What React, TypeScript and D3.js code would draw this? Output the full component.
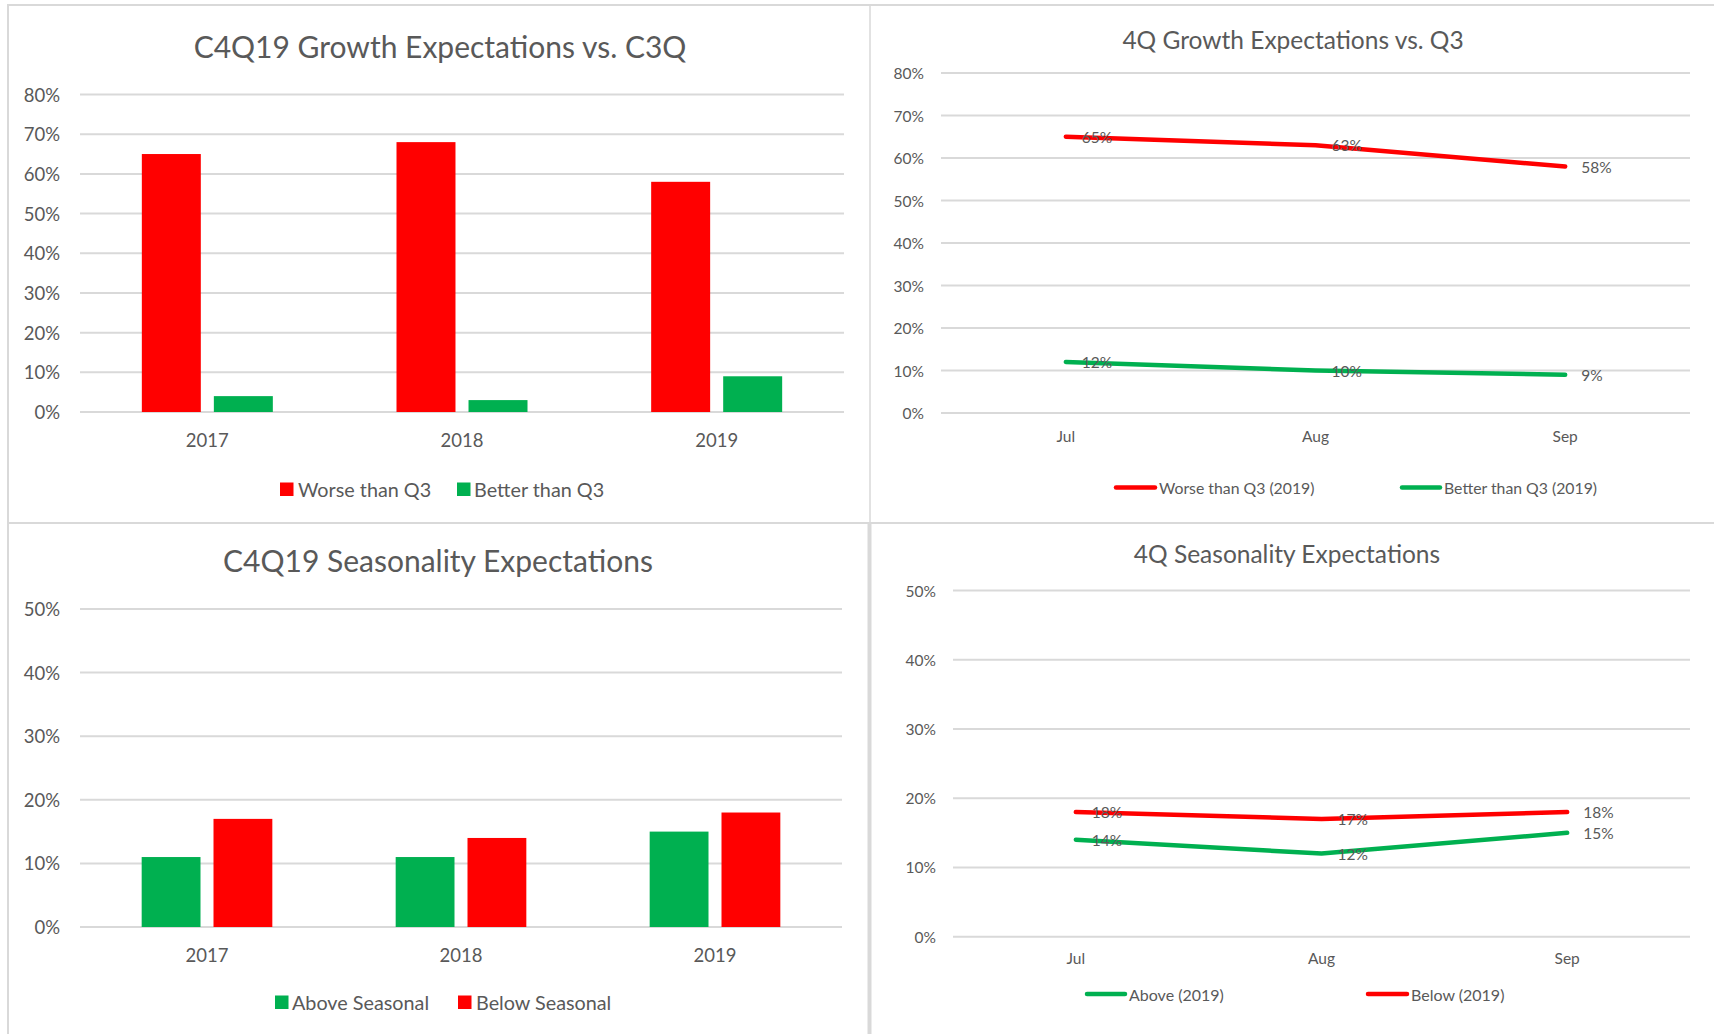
import React from "react";
import * as d3 from "d3";

// --- data ---
const years = ["2017", "2018", "2019"];
const worseThanQ3 = [0.65, 0.68, 0.58];
const betterThanQ3 = [0.04, 0.03, 0.09];
const aboveSeasonal = [0.11, 0.11, 0.15];
const belowSeasonal = [0.17, 0.14, 0.18];

const months = ["Jul", "Aug", "Sep"];
const worse2019 = [0.65, 0.63, 0.58];
const better2019 = [0.12, 0.1, 0.09];
const above2019 = [0.14, 0.12, 0.15];
const below2019 = [0.18, 0.17, 0.18];

const growthTicks = [0, 0.1, 0.2, 0.3, 0.4, 0.5, 0.6, 0.7, 0.8];
const seasonTicks = [0, 0.1, 0.2, 0.3, 0.4, 0.5];

const RED = "#FF0000";
const GREEN = "#00B050";
const GRID = "#D9D9D9";
const TEXT = "#595959";
const FONT = "Lato, 'Open Sans', sans-serif";

const pct = d3.format(".0%");

function BarPanel({ title, titleX, titleY, titleSize, x0, x1, yTop, yBottom, ticks, series, labelX, axisY, legendY, fontSize, legendSize, legend }) {
  const y = d3.scaleLinear().domain([0, ticks[ticks.length - 1]]).range([yBottom, yTop]);
  const xGroup = d3.scaleBand().domain(years).range([x0, x1]).paddingInner(0.4856).paddingOuter(0.2428);
  const xBar = d3.scaleBand().domain(series.map((s) => s.name)).range([0, xGroup.bandwidth()]).paddingInner(0.181);
  return (
    <g>
      <text x={titleX} y={titleY} textAnchor="middle" dominantBaseline="central" fontSize={titleSize} fill={TEXT}>{title}</text>
      {ticks.map((t) => (
        <g key={t}>
          <line x1={x0} x2={x1} y1={y(t)} y2={y(t)} stroke={GRID} strokeWidth={2} />
          <text x={labelX} y={y(t)} textAnchor="end" dominantBaseline="central" fontSize={fontSize} fill={TEXT}>{pct(t)}</text>
        </g>
      ))}
      {years.map((yr, i) => (
        <g key={yr} transform={`translate(${xGroup(yr)},0)`}>
          {series.map((s) => (
            <rect key={s.name} x={xBar(s.name)} width={xBar.bandwidth()} y={y(s.values[i])} height={y(0) - y(s.values[i])} fill={s.color} />
          ))}
          <text x={xGroup.bandwidth() / 2} y={axisY} textAnchor="middle" dominantBaseline="central" fontSize={fontSize} fill={TEXT}>{yr}</text>
        </g>
      ))}
      {series.map((s, i) => (
        <g key={s.name}>
          <rect x={legend[i][0]} y={legendY - 6.5} width={13.5} height={13.5} fill={s.color} />
          <text x={legend[i][1]} y={legendY} dominantBaseline="central" fontSize={legendSize} fill={TEXT}>{s.name}</text>
        </g>
      ))}
    </g>
  );
}

function LinePanel({ title, titleX, titleY, titleSize, x0, x1, yTop, yBottom, ticks, series, labelX, axisY, legendY, fontSize, legendSize, legend }) {
  const y = d3.scaleLinear().domain([0, ticks[ticks.length - 1]]).range([yBottom, yTop]);
  const x = d3.scalePoint().domain(months).range([x0, x1]).padding(0.5);
  const line = d3.line<number>().x((_, i) => x(months[i])).y((d) => y(d));
  return (
    <g>
      <text x={titleX} y={titleY} textAnchor="middle" dominantBaseline="central" fontSize={titleSize} fill={TEXT}>{title}</text>
      {ticks.map((t) => (
        <g key={t}>
          <line x1={x0} x2={x1} y1={y(t)} y2={y(t)} stroke={GRID} strokeWidth={2} />
          <text x={labelX} y={y(t)} textAnchor="end" dominantBaseline="central" fontSize={fontSize} fill={TEXT}>{pct(t)}</text>
        </g>
      ))}
      {months.map((m) => (
        <text key={m} x={x(m)} y={axisY} textAnchor="middle" dominantBaseline="central" fontSize={fontSize} fill={TEXT}>{m}</text>
      ))}
      {series.map((s) => (
        <path key={s.name} d={line(s.values)} fill="none" stroke={s.color} strokeWidth={4.5} strokeLinecap="round" strokeLinejoin="round" />
      ))}
      {series.map((s) =>
        s.values.map((v, i) => (
          <text key={s.name + i} x={x(months[i]) + 16} y={y(v)} dominantBaseline="central" fontSize={fontSize} fill={TEXT}>{pct(v)}</text>
        ))
      )}
      {series.map((s, i) => (
        <g key={s.name}>
          <line x1={legend[i][0]} x2={legend[i][1] - 4} y1={legendY} y2={legendY} stroke={s.color} strokeWidth={4.5} strokeLinecap="round" />
          <text x={legend[i][1]} y={legendY} dominantBaseline="central" fontSize={legendSize} fill={TEXT}>{s.name}</text>
        </g>
      ))}
    </g>
  );
}

export default function App() {
  return (
    <svg width={1714} height={1034} style={{ position: "absolute", left: 0, top: 0, background: "#fff" }} fontFamily={FONT}>
      <rect width={1714} height={1034} fill="#fff" />
      {/* panel frame */}
      <line x1={7} x2={1714} y1={5} y2={5} stroke={GRID} strokeWidth={2} />
      <line x1={8} x2={8} y1={4} y2={1034} stroke={GRID} strokeWidth={2} />
      <line x1={8} x2={1714} y1={523} y2={523} stroke={GRID} strokeWidth={2} />
      <line x1={870} x2={870} y1={5} y2={523} stroke={GRID} strokeWidth={1.5} />
      <line x1={869.5} x2={869.5} y1={523} y2={1034} stroke={GRID} strokeWidth={4} />

      <BarPanel
        title="C4Q19 Growth Expectations vs. C3Q" titleX={440} titleY={46} titleSize={30}
        x0={80} x1={844} yTop={94.5} yBottom={412} ticks={growthTicks}
        series={[{ name: "Worse than Q3", values: worseThanQ3, color: RED }, { name: "Better than Q3", values: betterThanQ3, color: GREEN }]}
        labelX={60} axisY={440} legendY={489} fontSize={18.5} legendSize={19.8} legend={[[280, 298], [457, 474]]}
      />
      <LinePanel
        title="4Q Growth Expectations vs. Q3" titleX={1293} titleY={39} titleSize={24.5}
        x0={941} x1={1690} yTop={73} yBottom={413} ticks={growthTicks}
        series={[{ name: "Worse than Q3 (2019)", values: worse2019, color: RED }, { name: "Better than Q3 (2019)", values: better2019, color: GREEN }]}
        labelX={924} axisY={436} legendY={487.5} fontSize={15.5} legendSize={15.8} legend={[[1116, 1159], [1402, 1444]]}
      />
      <BarPanel
        title="C4Q19 Seasonality Expectations" titleX={438} titleY={560} titleSize={30}
        x0={80} x1={842} yTop={609} yBottom={927} ticks={seasonTicks}
        series={[{ name: "Above Seasonal", values: aboveSeasonal, color: GREEN }, { name: "Below Seasonal", values: belowSeasonal, color: RED }]}
        labelX={60} axisY={955} legendY={1002} fontSize={18.5} legendSize={19.8} legend={[[275, 292], [458, 476]]}
      />
      <LinePanel
        title="4Q Seasonality Expectations" titleX={1287} titleY={553} titleSize={24.5}
        x0={953} x1={1690} yTop={590.5} yBottom={936.7} ticks={seasonTicks}
        series={[{ name: "Above (2019)", values: above2019, color: GREEN }, { name: "Below (2019)", values: below2019, color: RED }]}
        labelX={936} axisY={958} legendY={994} fontSize={15.5} legendSize={16} legend={[[1087, 1129], [1368, 1411]]}
      />
    </svg>
  );
}
